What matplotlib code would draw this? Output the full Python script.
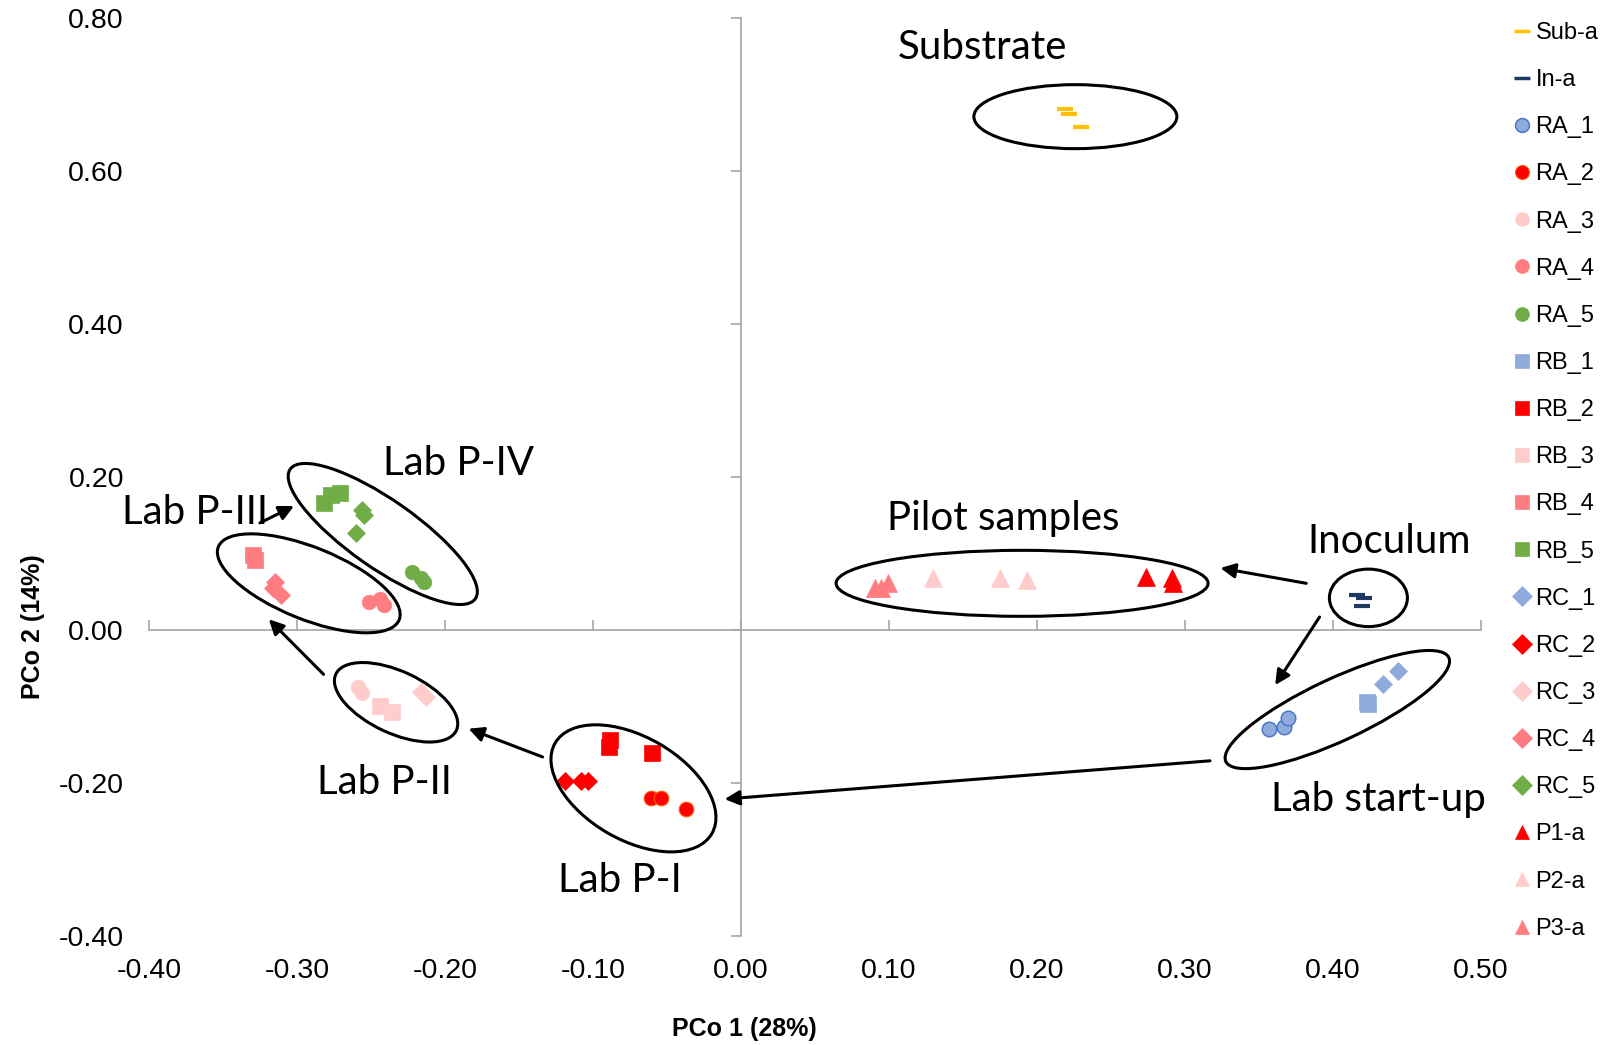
import matplotlib
matplotlib.use("Agg")
import matplotlib.pyplot as plt
from matplotlib.lines import Line2D
from matplotlib.patches import Ellipse
from matplotlib.ticker import FuncFormatter
from matplotlib.transforms import ScaledTranslation

plt.rcParams["font.family"] = ["Liberation Sans", "DejaVu Sans"]

# ---- PCoA scores per sample group -------------------------------------
sub_a_x = [0.219, 0.222, 0.230]
sub_a_y = [0.681, 0.674, 0.657]
in_a_x = [0.416, 0.421, 0.420]
in_a_y = [0.046, 0.042, 0.031]

ra1_x = [0.357, 0.367, 0.370]
ra1_y = [-0.129, -0.127, -0.115]
ra2_x = [-0.061, -0.054, -0.037]
ra2_y = [-0.219, -0.220, -0.234]
ra3_x = [-0.259, -0.256]
ra3_y = [-0.074, -0.083]
ra4_x = [-0.251, -0.244, -0.241]
ra4_y = [0.037, 0.041, 0.033]
ra5_x = [-0.222, -0.216, -0.214]
ra5_y = [0.076, 0.068, 0.063]

rb1_x = [0.423, 0.424]
rb1_y = [-0.094, -0.097]
rb2_x = [-0.0885, -0.089, -0.060]
rb2_y = [-0.144, -0.153, -0.161]
rb3_x = [-0.244, -0.236]
rb3_y = [-0.100, -0.107]
rb4_x = [-0.330, -0.328]
rb4_y = [0.098, 0.092]
rb5_x = [-0.282, -0.277, -0.271]
rb5_y = [0.166, 0.176, 0.179]

rc1_x = [0.434, 0.444]
rc1_y = [-0.070, -0.054]
rc2_x = [-0.119, -0.108, -0.103]
rc2_y = [-0.198, -0.198, -0.197]
rc3_x = [-0.216, -0.213]
rc3_y = [-0.081, -0.088]
rc4_x = [-0.315, -0.316, -0.311]
rc4_y = [0.063, 0.055, 0.046]
rc5_x = [-0.256, -0.255, -0.260]
rc5_y = [0.157, 0.150, 0.127]

p1_x = [0.274, 0.291, 0.292]
p1_y = [0.069, 0.068, 0.061]
p2_x = [0.130, 0.175, 0.193]
p2_y = [0.068, 0.068, 0.065]
p3_x = [0.0905, 0.0995, 0.095]
p3_y = [0.0545, 0.061, 0.0545]

x_ticks = [-0.40, -0.30, -0.20, -0.10, 0.00, 0.10, 0.20, 0.30, 0.40, 0.50]
y_ticks = [-0.40, -0.20, 0.00, 0.20, 0.40, 0.60, 0.80]

# ---- colours ------------------------------------------------------------
BLUE = "#8FAADC"
BLUE_EDGE = "#4472C4"
RED = "#FF0000"
LPINK = "#FFCCCC"
SALMON = "#FF7C80"
GREEN = "#70AD47"
YELLOW = "#FFC000"
NAVY = "#1F3864"

# label, x, y, marker, size, face, edge, edge width
series = [
    ("Sub-a", sub_a_x, sub_a_y, "_", 12, YELLOW, YELLOW, 3.0),
    ("In-a", in_a_x, in_a_y, "_", 12, NAVY, NAVY, 3.0),
    ("RA_1", ra1_x, ra1_y, "o", 10.5, BLUE, BLUE_EDGE, 1.0),
    ("RA_2", ra2_x, ra2_y, "o", 10.5, RED, "#FF5A00", 0.8),
    ("RA_3", ra3_x, ra3_y, "o", 10.5, LPINK, LPINK, 0.5),
    ("RA_4", ra4_x, ra4_y, "o", 10.5, SALMON, SALMON, 0.5),
    ("RA_5", ra5_x, ra5_y, "o", 10.5, GREEN, GREEN, 0.5),
    ("RB_1", rb1_x, rb1_y, "s", 11.5, BLUE, BLUE, 0.5),
    ("RB_2", rb2_x, rb2_y, "s", 11.5, RED, RED, 0.5),
    ("RB_3", rb3_x, rb3_y, "s", 11.5, LPINK, LPINK, 0.5),
    ("RB_4", rb4_x, rb4_y, "s", 11.5, SALMON, SALMON, 0.5),
    ("RB_5", rb5_x, rb5_y, "s", 11.5, GREEN, GREEN, 0.5),
    ("RC_1", rc1_x, rc1_y, "D", 9.5, BLUE, BLUE, 0.5),
    ("RC_2", rc2_x, rc2_y, "D", 9.5, RED, RED, 0.5),
    ("RC_3", rc3_x, rc3_y, "D", 9.5, LPINK, LPINK, 0.5),
    ("RC_4", rc4_x, rc4_y, "D", 9.5, SALMON, SALMON, 0.5),
    ("RC_5", rc5_x, rc5_y, "D", 9.5, GREEN, GREEN, 0.5),
    ("P1-a", p1_x, p1_y, "^", 13, RED, RED, 0.5),
    ("P2-a", p2_x, p2_y, "^", 13, LPINK, LPINK, 0.5),
    ("P3-a", p3_x, p3_y, "^", 13, SALMON, SALMON, 0.5),
]

# cluster outlines: centre (data), width/height (inches), angle (deg)
clusters = [
    (0.226, 0.671, 2.03, 0.64, 0),
    (0.424, 0.042, 0.78, 0.575, 0),
    (0.190, 0.061, 3.72, 0.66, 0),
    (0.403, -0.104, 2.46, 0.62, 25),
    (-0.0726, -0.207, 1.81, 1.03, -30),
    (-0.233, -0.0945, 1.33, 0.62, -25),
    (-0.292, 0.061, 1.95, 0.72, -22),
    (-0.242, 0.1255, 2.26, 0.68, -35),
]

# group names: text, x, y (data)
group_labels = [
    ("Substrate", 0.163, 0.761),
    ("Lab P-IV", -0.1905, 0.218),
    ("Lab P-III", -0.369, 0.154),
    ("Pilot samples", 0.177, 0.146),
    ("Inoculum", 0.438, 0.116),
    ("Lab P-II", -0.241, -0.199),
    ("Lab P-I", -0.082, -0.328),
    ("Lab start-up", 0.431, -0.222),
]

# succession arrows: (x_from, y_from) -> (x_to, y_to)
arrows = [
    ((-0.325, 0.140), (-0.302, 0.162)),
    ((-0.282, -0.058), (-0.319, 0.014)),
    ((-0.134, -0.166), (-0.184, -0.129)),
    ((0.317, -0.171), (-0.011, -0.221)),
    ((0.382, 0.061), (0.324, 0.081)),
    ((0.391, 0.017), (0.361, -0.072)),
]

fig = plt.figure(figsize=(16.1, 10.45), dpi=100)
ax = fig.add_axes([0.0925, 0.1043, 0.8273, 0.8785])
xlim = (-0.40, 0.50)
ylim = (-0.40, 0.80)
ax.set_xlim(*xlim)
ax.set_ylim(*ylim)

AXIS_GREY = "#A6A6A6"
fmt = FuncFormatter(lambda v, _: f"{v:.2f}")

# tick labels sit at the outer edges
ax.set_xticks(x_ticks)
ax.set_yticks(y_ticks)
ax.xaxis.set_major_formatter(fmt)
ax.yaxis.set_major_formatter(fmt)
ax.tick_params(axis="both", length=0, labelsize=20.5, colors="black")
ax.tick_params(axis="y", pad=18)
ax.tick_params(axis="x", pad=16)
for s in ax.spines.values():
    s.set_visible(False)

# axis lines crossing at the origin
xfrac = (0 - xlim[0]) / (xlim[1] - xlim[0])
yfrac = (0 - ylim[0]) / (ylim[1] - ylim[0])
sy = ax.secondary_yaxis(xfrac)
sy.set_yticks(y_ticks)
sy.set_yticklabels([])
sy.tick_params(direction="out", length=7, width=1.2, color=AXIS_GREY)
sy.spines["left"].set_color(AXIS_GREY)
sy.spines["left"].set_linewidth(1.2)
sx = ax.secondary_xaxis(yfrac)
sx.set_xticks(x_ticks)
sx.set_xticklabels([])
sx.tick_params(direction="in", length=7, width=1.2, color=AXIS_GREY)
sx.spines["bottom"].set_color(AXIS_GREY)
sx.spines["bottom"].set_linewidth(1.2)

handles = []
for label, xs, ys, mk, ms, fc, ec, mew in series:
    ax.plot(xs, ys, linestyle="none", marker=mk, markersize=ms,
            markerfacecolor=fc, markeredgecolor=ec, markeredgewidth=mew,
            zorder=3)
    handles.append(Line2D([], [], linestyle="none", marker=mk,
                          markersize=(11 if mk == "_" else 10),
                          markerfacecolor=fc, markeredgecolor=ec,
                          markeredgewidth=(2.5 if mk == "_" else mew),
                          label=label))

for cx, cy, w, h, ang in clusters:
    e = Ellipse((0, 0), w, h, angle=ang, fill=False, edgecolor="black",
                linewidth=2.2,
                transform=fig.dpi_scale_trans + ScaledTranslation(cx, cy, ax.transData),
                zorder=4)
    ax.add_artist(e)

for text, tx, ty in group_labels:
    ax.text(tx, ty, text, ha="center", va="center", fontsize=29,
            family=["Lato", "DejaVu Sans"], color="black", zorder=5)

for (x0, y0), (x1, y1) in arrows:
    ax.annotate("", xy=(x1, y1), xytext=(x0, y0),
                arrowprops=dict(arrowstyle="-|>", color="black", lw=2.2,
                                mutation_scale=22, shrinkA=0, shrinkB=0),
                zorder=5)

fig.text(0.4624, 0.0153, "PCo 1 (28%)", ha="center", va="center",
         fontsize=18, fontweight="bold")
fig.text(0.0205, 0.40, "PCo 2 (14%)", ha="center", va="center",
         fontsize=18, fontweight="bold", rotation=90)

fig.legend(handles=handles, loc="upper left",
           bbox_to_anchor=(1514 / 1610, 1 - 22 / 1045),
           frameon=False, fontsize=17, handlelength=0.65, handletextpad=0.26,
           labelspacing=1.065, borderpad=0, borderaxespad=0)

fig.savefig("out.png", dpi=100)
